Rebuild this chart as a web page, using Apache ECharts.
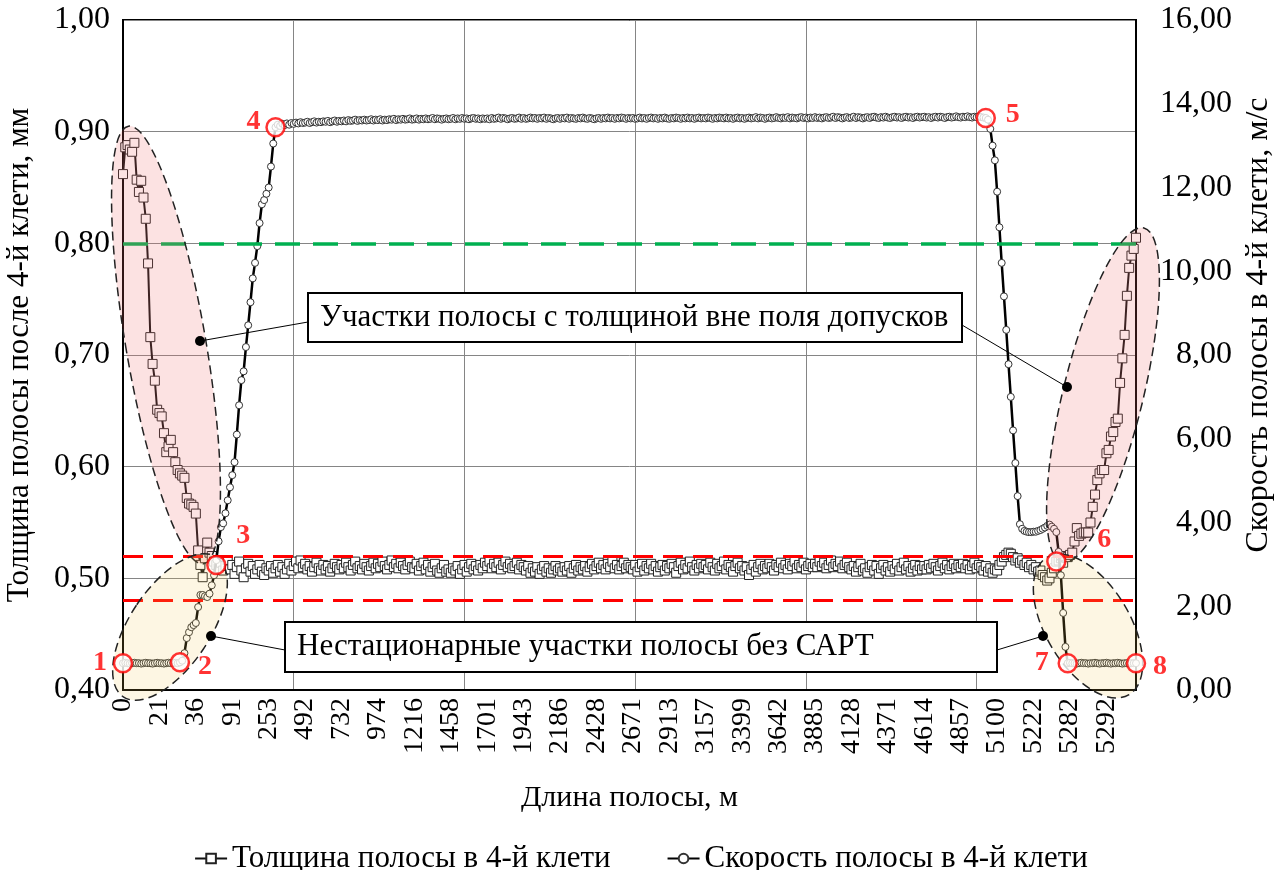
<!DOCTYPE html>
<html lang="ru">
<head>
<meta charset="UTF-8">
<title>Толщина и скорость полосы в 4-й клети</title>
<style>
  html, body { margin: 0; padding: 0; background: #fff; }
  #main { width: 1282px; height: 870px; }
</style>
</head>
<body>
<div id="main"></div>
<script src="https://cdn.jsdelivr.net/npm/echarts@6/dist/echarts.min.js"></script>
<script>
// подписи оси X (длина полосы, м), одна подпись на каждые 16 точек
var xLabels = ['0', '21', '36', '91', '253', '492', '732', '974', '1216', '1458', '1701', '1943', '2186', '2428',
  '2671', '2913', '3157', '3399', '3642', '3885', '4128', '4371', '4614', '4857', '5100', '5222', '5282', '5292'];
var labelStep = 16;
var gridStep = 75;

// толщина полосы в 4-й клети, мм
var thickness = [
  0.862, 0.886, 0.888, 0.884, 0.882, 0.890, 0.857, 0.846, 0.856, 0.841, 0.822, 0.782, 0.716, 0.692, 0.677, 0.651,
  0.648, 0.645, 0.630, 0.613, 0.618, 0.624, 0.613, 0.604, 0.597, 0.594, 0.592, 0.590, 0.572, 0.567, 0.566, 0.564,
  0.558, 0.525, 0.512, 0.501, 0.518, 0.532, 0.523, 0.520, 0.515, 0.512, 0.509, 0.514, 0.507, 0.511, 0.516, 0.508,
  0.512, 0.504, 0.510, 0.515, 0.507, 0.501, 0.509, 0.513, 0.506, 0.511, 0.504, 0.508, 0.512, 0.506, 0.503, 0.509,
  0.507, 0.511, 0.505, 0.509, 0.512, 0.506, 0.510, 0.504, 0.508, 0.513, 0.507, 0.511, 0.515, 0.509, 0.516, 0.510,
  0.513, 0.508, 0.511, 0.506, 0.510, 0.514, 0.509, 0.507, 0.512, 0.508, 0.511, 0.506, 0.509, 0.513, 0.510, 0.508,
  0.512, 0.509, 0.514, 0.510, 0.507, 0.512, 0.515, 0.509, 0.511, 0.508, 0.513, 0.510, 0.507, 0.511, 0.514, 0.509,
  0.513, 0.510, 0.515, 0.511, 0.508, 0.512, 0.516, 0.510, 0.513, 0.509, 0.514, 0.511, 0.508, 0.512, 0.515, 0.510,
  0.509, 0.513, 0.507, 0.511, 0.514, 0.508, 0.512, 0.506, 0.510, 0.513, 0.507, 0.505, 0.509, 0.512, 0.506, 0.508,
  0.505, 0.509, 0.507, 0.511, 0.504, 0.508, 0.512, 0.506, 0.510, 0.513, 0.508, 0.511, 0.507, 0.512, 0.509, 0.514,
  0.511, 0.515, 0.509, 0.513, 0.510, 0.514, 0.508, 0.512, 0.515, 0.510, 0.513, 0.509, 0.511, 0.514, 0.508, 0.512,
  0.510, 0.507, 0.511, 0.505, 0.509, 0.506, 0.510, 0.504, 0.508, 0.511, 0.506, 0.509, 0.505, 0.508, 0.511, 0.507,
  0.509, 0.506, 0.510, 0.507, 0.511, 0.505, 0.509, 0.512, 0.507, 0.510, 0.508, 0.511, 0.506, 0.510, 0.513, 0.508,
  0.511, 0.514, 0.509, 0.512, 0.508, 0.513, 0.510, 0.515, 0.509, 0.512, 0.508, 0.511, 0.514, 0.509, 0.512, 0.510,
  0.508, 0.512, 0.506, 0.510, 0.513, 0.507, 0.511, 0.509, 0.513, 0.508, 0.511, 0.506, 0.510, 0.512, 0.507, 0.511,
  0.509, 0.513, 0.510, 0.505, 0.511, 0.514, 0.508, 0.512, 0.509, 0.515, 0.510, 0.507, 0.512, 0.509, 0.513, 0.510,
  0.512, 0.508, 0.514, 0.510, 0.507, 0.513, 0.509, 0.511, 0.515, 0.508, 0.512, 0.510, 0.506, 0.511, 0.514, 0.509,
  0.511, 0.507, 0.510, 0.503, 0.508, 0.512, 0.506, 0.510, 0.513, 0.508, 0.511, 0.509, 0.513, 0.510, 0.507, 0.512,
  0.510, 0.514, 0.509, 0.512, 0.508, 0.513, 0.511, 0.515, 0.509, 0.512, 0.510, 0.514, 0.508, 0.511, 0.513, 0.510,
  0.513, 0.510, 0.515, 0.511, 0.514, 0.509, 0.512, 0.516, 0.510, 0.513, 0.511, 0.515, 0.509, 0.512, 0.514, 0.510,
  0.508, 0.511, 0.506, 0.510, 0.513, 0.507, 0.509, 0.505, 0.510, 0.512, 0.507, 0.511, 0.504, 0.509, 0.512, 0.507,
  0.510, 0.506, 0.511, 0.508, 0.513, 0.507, 0.510, 0.514, 0.508, 0.511, 0.506, 0.509, 0.512, 0.507, 0.511, 0.508,
  0.511, 0.508, 0.512, 0.509, 0.513, 0.510, 0.507, 0.511, 0.514, 0.509, 0.512, 0.508, 0.511, 0.513, 0.509, 0.512,
  0.510, 0.513, 0.509, 0.512, 0.508, 0.511, 0.514, 0.509, 0.512, 0.510, 0.507, 0.511, 0.506, 0.509, 0.505, 0.508,
  0.507, 0.512, 0.515, 0.519, 0.521, 0.523, 0.522, 0.519, 0.516, 0.518, 0.514, 0.516, 0.512, 0.514, 0.510, 0.512,
  0.508, 0.510, 0.506, 0.507, 0.503, 0.501, 0.498, 0.500, 0.505, 0.509, 0.515, 0.516, 0.518, 0.514, 0.520, 0.519,
  0.521, 0.523, 0.533, 0.545, 0.538, 0.540, 0.541, 0.541, 0.541, 0.550, 0.564, 0.575, 0.588, 0.594, 0.597, 0.597,
  0.612, 0.615, 0.627, 0.631, 0.640, 0.643, 0.675, 0.697, 0.718, 0.753, 0.778, 0.789, 0.795, 0.805
];

// скорость полосы в 4-й клети, м/с
var speed = [
  0.64, 0.65, 0.64, 0.63, 0.64, 0.65, 0.64, 0.64, 0.63, 0.64, 0.65, 0.64, 0.64, 0.63, 0.64, 0.65,
  0.64, 0.64, 0.63, 0.64, 0.65, 0.64, 0.64, 0.65, 0.64, 0.66, 0.70, 0.88, 1.24, 1.38, 1.50, 1.55,
  1.60, 1.98, 2.27, 2.27, 2.24, 2.22, 2.30, 2.50, 2.74, 3.10, 3.55, 3.89, 3.98, 4.22, 4.53, 4.84,
  5.13, 5.44, 6.10, 6.80, 7.40, 7.61, 8.19, 8.71, 9.26, 9.83, 10.20, 10.60, 11.15, 11.60, 11.70, 11.85,
  12.00, 12.50, 13.05, 13.44, 13.50, 13.47, 13.52, 13.49, 13.53, 13.50, 13.54, 13.52, 13.55, 13.53, 13.56, 13.54,
  13.55, 13.57, 13.54, 13.56, 13.58, 13.55, 13.57, 13.56, 13.58, 13.57, 13.59, 13.56, 13.58, 13.60, 13.57, 13.59,
  13.58, 13.60, 13.58, 13.61, 13.59, 13.60, 13.62, 13.59, 13.61, 13.60, 13.62, 13.60, 13.61, 13.63, 13.60, 13.62,
  13.61, 13.63, 13.60, 13.62, 13.61, 13.63, 13.62, 13.64, 13.61, 13.63, 13.62, 13.64, 13.62, 13.63, 13.65, 13.62,
  13.63, 13.65, 13.62, 13.64, 13.63, 13.65, 13.63, 13.64, 13.66, 13.63, 13.65, 13.64, 13.62, 13.64, 13.65, 13.63,
  13.64, 13.66, 13.63, 13.65, 13.64, 13.66, 13.64, 13.65, 13.63, 13.65, 13.66, 13.64, 13.65, 13.63, 13.65, 13.64,
  13.65, 13.63, 13.66, 13.64, 13.65, 13.67, 13.64, 13.66, 13.65, 13.63, 13.65, 13.66, 13.64, 13.65, 13.67, 13.64,
  13.66, 13.64, 13.65, 13.67, 13.65, 13.66, 13.64, 13.66, 13.65, 13.67, 13.64, 13.66, 13.65, 13.63, 13.65, 13.66,
  13.64, 13.66, 13.65, 13.67, 13.64, 13.66, 13.65, 13.64, 13.66, 13.65, 13.67, 13.65, 13.64, 13.66, 13.65, 13.63,
  13.65, 13.66, 13.64, 13.66, 13.65, 13.67, 13.65, 13.66, 13.64, 13.66, 13.65, 13.67, 13.66, 13.64, 13.66, 13.65,
  13.66, 13.64, 13.65, 13.67, 13.65, 13.66, 13.64, 13.66, 13.67, 13.65, 13.66, 13.64, 13.66, 13.65, 13.67, 13.65,
  13.64, 13.66, 13.65, 13.67, 13.66, 13.64, 13.66, 13.65, 13.67, 13.65, 13.66, 13.64, 13.66, 13.67, 13.65, 13.66,
  13.65, 13.67, 13.66, 13.64, 13.66, 13.65, 13.67, 13.66, 13.65, 13.67, 13.65, 13.66, 13.64, 13.66, 13.67, 13.65,
  13.66, 13.64, 13.66, 13.67, 13.65, 13.66, 13.68, 13.65, 13.67, 13.66, 13.64, 13.66, 13.67, 13.65, 13.66, 13.68,
  13.66, 13.65, 13.67, 13.66, 13.68, 13.65, 13.67, 13.66, 13.65, 13.67, 13.68, 13.66, 13.67, 13.65, 13.67, 13.66,
  13.68, 13.66, 13.67, 13.65, 13.67, 13.68, 13.66, 13.67, 13.69, 13.66, 13.68, 13.67, 13.65, 13.67, 13.68, 13.66,
  13.67, 13.69, 13.66, 13.68, 13.67, 13.65, 13.67, 13.68, 13.66, 13.68, 13.69, 13.67, 13.66, 13.68, 13.67, 13.69,
  13.67, 13.66, 13.68, 13.69, 13.67, 13.68, 13.66, 13.68, 13.69, 13.67, 13.68, 13.66, 13.68, 13.69, 13.67, 13.68,
  13.69, 13.67, 13.68, 13.66, 13.68, 13.69, 13.67, 13.69, 13.68, 13.66, 13.68, 13.69, 13.67, 13.68, 13.70, 13.68,
  13.67, 13.69, 13.68, 13.70, 13.68, 13.67, 13.69, 13.68, 13.70, 13.68, 13.67, 13.66, 13.62, 13.40, 13.00, 12.65,
  11.90, 11.05, 10.20, 9.40, 8.60, 7.78, 7.00, 6.20, 5.42, 4.63, 3.96, 3.85, 3.80, 3.78, 3.77, 3.77,
  3.78, 3.78, 3.80, 3.82, 3.85, 3.88, 3.92, 3.95, 3.90, 3.85, 3.77, 3.30, 2.74, 1.84, 1.03, 0.64,
  0.65, 0.64, 0.64, 0.63, 0.64, 0.65, 0.64, 0.64, 0.63, 0.64, 0.64, 0.65, 0.64, 0.63, 0.64, 0.64,
  0.65, 0.64, 0.63, 0.64, 0.64, 0.65, 0.64, 0.63, 0.64, 0.64, 0.63, 0.64, 0.64, 0.64
];

// границы поля допусков и 0,80 мм
var toleranceLines = [0.52, 0.48];
var upperLine = [0.80];

// отмеченные точки: номер, ряд, индекс точки
var keyNames = ['1', '2', '3', '4', '5', '6', '7', '8'];
var keySeries = ['speed', 'speed', 'thickness', 'speed', 'speed', 'thickness', 'speed', 'speed'];
var keyIndex = [0, 25, 41, 67, 379, 410, 415, 445];

var FONT = 'Liberation Serif';
var myChart = echarts.init(document.getElementById('main'));

// смещения номеров относительно красных кружков
var numOffset = [[-23, 0], [25, 4], [27, -29], [-22, -5], [27, -3], [48, -22], [-26, 0], [24, 4]];

function keyData(which) {
  var out = [];
  for (var k = 0; k < keyNames.length; k++) {
    if (keySeries[k] !== which) continue;
    var arr = which === 'speed' ? speed : thickness;
    out.push({
      value: [keyIndex[k], arr[keyIndex[k]]],
      label: { formatter: keyNames[k], offset: numOffset[k] }
    });
  }
  return out;
}

function comma(v) { return v.toFixed(2).replace('.', ','); }

var keyStyle = {
  type: 'scatter',
  symbol: 'circle',
  symbolSize: 18,
  z: 20,
  silent: true,
  itemStyle: { color: '#fff', borderColor: '#ff0000', borderWidth: 2.5 },
  label: {
    show: true, position: 'inside', color: '#ff0000', fontFamily: FONT,
    fontSize: 28, fontWeight: 'bold'
  }
};

var pink = 'rgba(240, 110, 110, 0.2)';
var yellow = 'rgba(240, 200, 80, 0.16)';
// эллипсы: центр, полуоси, поворот
var ellipses = [
  [166, 345, 40, 222, 0.17, pink],
  [170, 627, 40, 84, -0.59, yellow],
  [1103, 395, 40, 172, -0.24, pink],
  [1088, 626, 42, 80, 0.54, yellow]
];

var graphics = [];
ellipses.forEach(function (e) {
  graphics.push({
    type: 'ellipse', x: e[0], y: e[1], rotation: e[4], z: 10, silent: true,
    shape: { cx: 0, cy: 0, rx: e[2], ry: e[3] },
    style: { fill: e[5], stroke: '#222', lineWidth: 1.5, lineDash: [9, 5] }
  });
});

// выноски
[[200, 341, 308, 322], [962, 325, 1067, 387], [211, 636, 285, 650], [997, 650, 1043, 636]].forEach(function (l) {
  graphics.push({
    type: 'line', z: 15, silent: true,
    shape: { x1: l[0], y1: l[1], x2: l[2], y2: l[3] },
    style: { stroke: '#000', lineWidth: 1 }
  });
});
[[200, 341], [1067, 387], [211, 636], [1043, 636]].forEach(function (p) {
  graphics.push({
    type: 'circle', z: 16, silent: true,
    shape: { cx: p[0], cy: p[1], r: 5 },
    style: { fill: '#000' }
  });
});

// рамки с подписями
[[308, 293, 654, 49, 'Участки полосы с толщиной вне поля допусков'],
 [285, 622, 712, 50, 'Нестационарные участки полосы без САРТ']].forEach(function (b) {
  graphics.push({
    type: 'rect', z: 15, silent: true,
    shape: { x: b[0], y: b[1], width: b[2], height: b[3] },
    style: { fill: '#fff', stroke: '#000', lineWidth: 2 }
  });
  graphics.push({
    type: 'text', z: 16, silent: true, x: b[0] + 12, y: b[1] + b[3] / 2,
    style: {
      text: b[4], fill: '#000', font: '31px "' + FONT + '"',
      align: 'left', verticalAlign: 'middle'
    }
  });
});

var option = {
  animation: false,
  backgroundColor: '#fff',
  textStyle: { fontFamily: FONT, color: '#000' },
  grid: {
    left: 123, right: 146, top: 20, bottom: 180, containLabel: false, outerBoundsMode: 'none',
    show: true, borderColor: '#000', borderWidth: 2
  },
  legend: {
    data: ['Толщина полосы в 4-й клети', 'Скорость полосы в 4-й клети'],
    top: 838, left: 'center', itemWidth: 32, itemHeight: 12, itemGap: 56,
    textStyle: { fontFamily: FONT, fontSize: 31, color: '#000' }
  },
  xAxis: {
    type: 'category',
    boundaryGap: false,
    data: thickness.map(function (v, i) { return i; }),
    name: 'Длина полосы, м',
    nameLocation: 'middle',
    nameGap: 93,
    nameTextStyle: { fontFamily: FONT, fontSize: 30, color: '#000' },
    axisLine: { lineStyle: { color: '#000', width: 2 } },
    axisTick: { show: false },
    axisLabel: {
      interval: labelStep - 1, rotate: 90, margin: 8,
      fontFamily: FONT, fontSize: 28, color: '#000',
      formatter: function (v, i) { return i % labelStep === 0 ? xLabels[i / labelStep] : ''; }
    },
    splitLine: { show: true, interval: gridStep - 1, lineStyle: { color: '#858585', width: 1 } }
  },
  yAxis: [{
    type: 'value', min: 0.4, max: 1.0, interval: 0.1,
    name: 'Толщина полосы после 4-й клети, мм',
    nameLocation: 'middle', nameRotate: 90, nameGap: 88,
    nameTextStyle: { fontFamily: FONT, fontSize: 31, color: '#000' },
    axisLine: { show: true, lineStyle: { color: '#000', width: 2 } },
    axisTick: { show: false },
    axisLabel: { margin: 13, fontFamily: FONT, fontSize: 32, color: '#000', formatter: comma },
    splitLine: { show: true, lineStyle: { color: '#858585', width: 1 } }
  }, {
    type: 'value', min: 0, max: 16, interval: 2,
    name: 'Скорость полосы в 4-й клети, м/с',
    nameLocation: 'middle', nameRotate: 90, nameGap: 106,
    nameTextStyle: { fontFamily: FONT, fontSize: 32, color: '#000', padding: [0, 0, 0, 60] },
    axisLine: { show: true, lineStyle: { color: '#000', width: 2 } },
    axisTick: { show: false },
    axisLabel: { margin: 96, align: 'right', fontFamily: FONT, fontSize: 32, color: '#000', formatter: comma },
    splitLine: { show: false }
  }],
  graphic: { elements: graphics },
  series: [{
    name: 'Толщина полосы в 4-й клети',
    type: 'line',
    yAxisIndex: 0,
    data: thickness,
    showAllSymbol: true,
    symbol: 'rect',
    symbolSize: 9,
    z: 3,
    lineStyle: { color: '#111', width: 2 },
    itemStyle: { color: '#fff', borderColor: '#222', borderWidth: 1 },
    markLine: {
      silent: true, symbol: ['none', 'none'], label: { show: false },
      data: toleranceLines.map(function (v) {
        return { yAxis: v, lineStyle: { color: '#ff0000', width: 3, type: [20, 10] } };
      }).concat(upperLine.map(function (v) {
        return { yAxis: v, lineStyle: { color: '#00b050', width: 3.5, type: [25, 13] } };
      }))
    }
  }, {
    name: 'Скорость полосы в 4-й клети',
    type: 'line',
    yAxisIndex: 1,
    data: speed,
    showAllSymbol: true,
    symbol: 'circle',
    symbolSize: 7,
    z: 4,
    lineStyle: { color: '#000', width: 2.5 },
    itemStyle: { color: '#fff', borderColor: '#333', borderWidth: 1 }
  },
  Object.assign({ name: 'kp-thickness', yAxisIndex: 0, data: keyData('thickness') }, keyStyle),
  Object.assign({ name: 'kp-speed', yAxisIndex: 1, data: keyData('speed') }, keyStyle)
  ]
};

myChart.setOption(option);
</script>
</body>
</html>
